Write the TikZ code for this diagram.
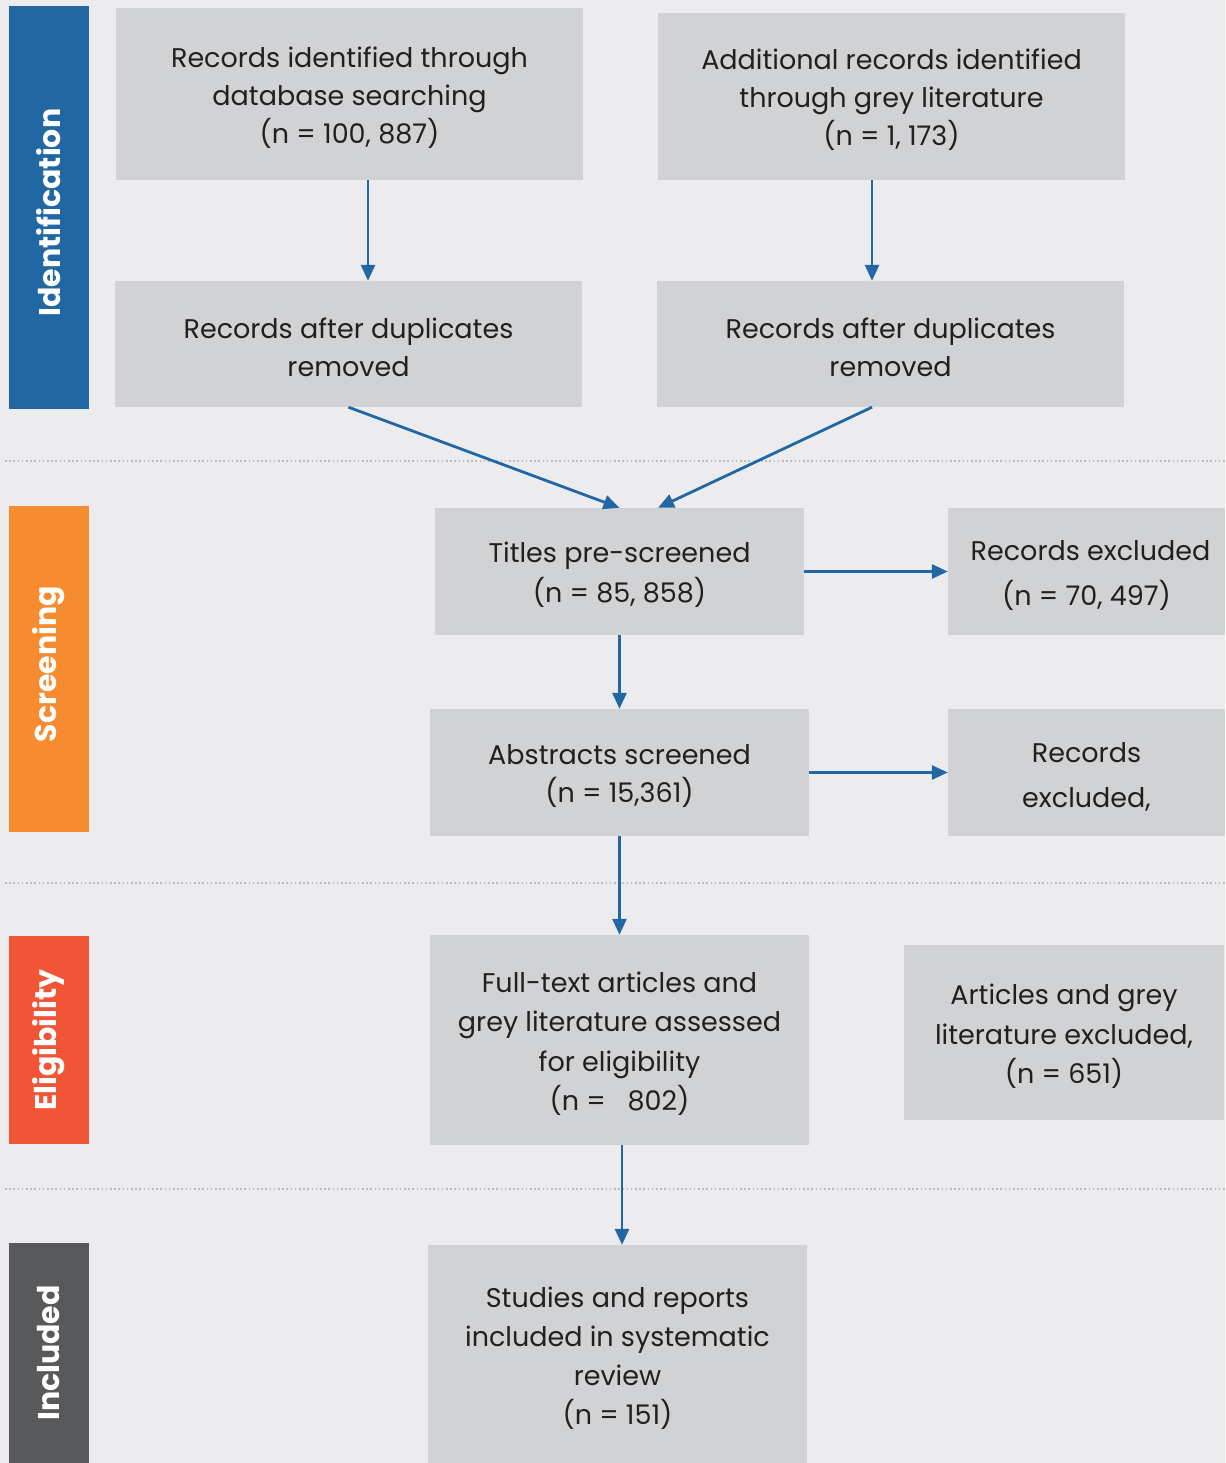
\documentclass[tikz,border=0pt]{standalone}
\usepackage{fontspec}
\setmainfont{Poppins}
\usetikzlibrary{arrows.meta}
\definecolor{bgc}{HTML}{ECECEE}
\definecolor{boxc}{HTML}{D1D2D4}
\definecolor{txtc}{HTML}{231F20}
\definecolor{idc}{HTML}{2067A4}
\definecolor{scc}{HTML}{F68B2F}
\definecolor{elc}{HTML}{F05535}
\definecolor{inc}{HTML}{58595B}
\definecolor{arrc}{HTML}{2067A4}
\definecolor{dotc}{HTML}{BDBDBF}
\newcommand{\dnk}{\rule{0pt}{28pt}}
\tikzset{
  box/.style={fill=boxc, text=txtc, inner sep=0pt, align=center,
    font=\fontsize{27}{38}\selectfont},
  bar/.style={rotate=90, inner sep=0pt, text=white, minimum height=80pt,
    font=\fontsize{30}{34}\selectfont\bfseries},
  arr/.style={draw=arrc, line width=2.8pt, -{Triangle[length=16pt,width=14pt]}},
  sep/.style={draw=dotc, line width=1.6pt, dash pattern=on 1.6pt off 2.6pt}
}
\begin{document}
\begin{tikzpicture}[x=1pt,y=-1pt]
\fill[bgc] (0,0) rectangle (1225,1463);
\useasboundingbox (0,0) rectangle (1225,1463);
% separators
\draw[sep] (5,461) -- (1225,461);
\draw[sep] (5,883) -- (1225,883);
\draw[sep] (5,1189) -- (1225,1189);
% phase bars
\node[bar, fill=idc, minimum width=403pt] (pid) at (49,207.5) {\hspace*{-10pt}Identification};
\node[bar, fill=scc, minimum width=326pt] (psc) at (49,669) {\hspace*{10pt}Screening};
\node[bar, fill=elc, minimum width=208pt] (pel) at (49,1040) {Eligibility};
\node[bar, fill=inc, minimum width=220pt] (pin) at (49,1353) {Included};
% boxes
\node[box, minimum width=467pt, minimum height=172pt] (b1) at (349.5,94)
  {\dnk Records identified through\\database searching\\(n = 100, 887)};
\node[box, minimum width=467pt, minimum height=167pt] (b2) at (891.5,96.5)
  {\dnk Additional records identified\\through grey literature\\(n = 1, 173)};
\node[box, minimum width=467pt, minimum height=126pt] (b3) at (348.5,344)
  {\dnk Records after duplicates\\removed};
\node[box, minimum width=467pt, minimum height=126pt] (b4) at (890.5,344)
  {\dnk Records after duplicates\\removed};
\node[box, minimum width=369pt, minimum height=127pt, font=\fontsize{27}{40}\selectfont] (b5) at (619.5,571.5)
  {\dnk Titles pre-screened\\(n = 85, 858)};
\node[box, minimum width=277pt, minimum height=127pt, font=\fontsize{27}{45}\selectfont] (b6) at (1086.5,571.5)
  {\dnk\hspace*{8pt}Records excluded\\(n = 70, 497)};
\node[box, minimum width=379pt, minimum height=127pt] (b7) at (619.5,772.5)
  {\dnk Abstracts screened\\(n = 15,361)};
\node[box, minimum width=277pt, minimum height=127pt, font=\fontsize{27}{45}\selectfont] (b8) at (1086.5,772.5)
  {\dnk Records\\excluded,};
\node[box, minimum width=379pt, minimum height=210pt, font=\fontsize{27}{39.5}\selectfont] (b9) at (619.5,1040)
  {\dnk Full-text articles and\\grey literature assessed\\for eligibility\\(n = \ \ 802)};
\node[box, minimum width=320pt, minimum height=175pt, font=\fontsize{27}{39.5}\selectfont] (b10) at (1064,1032.5)
  {\dnk Articles and grey\\literature excluded,\\(n = 651)};
\node[box, minimum width=379pt, minimum height=218pt, font=\fontsize{27}{39}\selectfont] (b11) at (617.5,1354)
  {\dnk Studies and reports\\included in systematic\\review\\(n = 151)};
% connectors
\draw[arr] ([xshift=18.5pt]b1.south) -- ([xshift=19.5pt]b3.north);
\draw[arr] ([xshift=-19.5pt]b2.south) -- ([xshift=-18.5pt]b4.north);
\draw[arr] (b3.south) -- (b5.north);
\draw[arr] ([xshift=-18.5pt]b4.south) -- ([xshift=38.5pt]b5.north);
\draw[arr] (b5.east) -- (b6.west);
\draw[arr] (b5.south) -- (b7.north);
\draw[arr] (b7.east) -- (b8.west);
\draw[arr] (b7.south) -- (b9.north);
\draw[arr] ([xshift=2.5pt]b9.south) -- ([xshift=4.5pt]b11.north);
\end{tikzpicture}
\end{document}
